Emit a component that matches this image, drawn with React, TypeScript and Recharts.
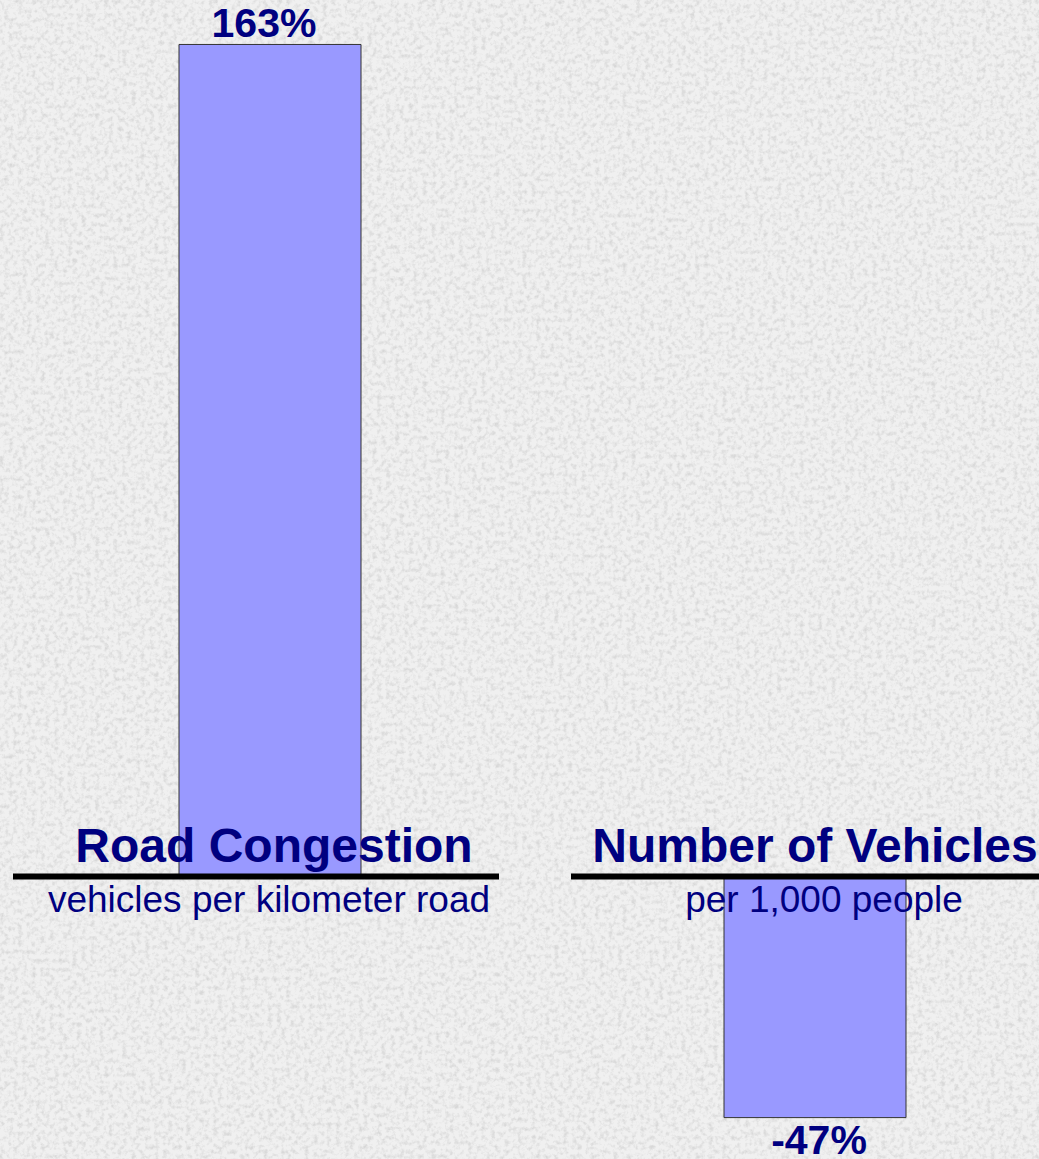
import { Bar, BarChart, LabelList, XAxis, YAxis } from "recharts";

const categories = ["Road Congestion", "Number of Vehicles"];
const subtitles = ["vehicles per kilometer road", "per 1,000 people"];
const changes = [163, -47];

const data = categories.map((name, i) => ({ name, sub: subtitles[i], value: changes[i] }));

const navy = "#000080";
const font = "'Liberation Sans', Arial, Helvetica, sans-serif";

// small nudges relative to the bar centre, per bar
const ruleFrom = [-257, -244];
const ruleLen = 486;
const titleDx = [4, 0];
const subDx = [-1, 9];
const valueDx = [-6, 4];

function BarText(props: any) {
  const { x, y, width, height, value, index } = props;
  const top = Math.min(y, y + height);
  const bottom = Math.max(y, y + height);
  const cx = x + width / 2;
  const zero = value >= 0 ? bottom : top;
  const row = data[index];
  return (
    <g fontFamily={font} fill={navy}>
      <text x={cx + titleDx[index]} y={zero - 15} textAnchor="middle" fontSize={48} fontWeight="bold">
        {row.name}
      </text>
      <line
        x1={cx + ruleFrom[index]}
        x2={cx + ruleFrom[index] + ruleLen}
        y1={zero - 1}
        y2={zero - 1}
        stroke="#000"
        strokeWidth={6}
      />
      <text x={cx + subDx[index]} y={zero + 35} textAnchor="middle" fontSize={37}>
        {row.sub}
      </text>
      <text
        x={cx + valueDx[index]}
        y={value >= 0 ? top - 7 : bottom + 36}
        textAnchor="middle"
        fontSize={41}
        fontWeight="bold"
      >
        {`${value}%`}
      </text>
    </g>
  );
}

function Marble() {
  return (
    <svg width={1039} height={1159} style={{ position: "absolute", left: 0, top: 0 }}>
      <filter id="speckle" x="0" y="0" width="100%" height="100%">
        <feTurbulence type="fractalNoise" baseFrequency="0.22" numOctaves={3} seed={7} />
        <feColorMatrix
          type="matrix"
          values="0 0 0 0 0.5  0 0 0 0 0.5  0 0 0 0 0.5  0 0 0 -2.4 1.35"
        />
      </filter>
      <rect width="100%" height="100%" fill="#f0f0f0" />
      <rect width="100%" height="100%" filter="url(#speckle)" opacity={0.45} />
    </svg>
  );
}

export default function App() {
  return (
    <div
      style={{
        position: "absolute",
        left: 0,
        top: 0,
        width: 1039,
        height: 1159,
        overflow: "hidden",
        background: "#efefef"
      }}
    >
      <Marble />
      <div style={{ position: "absolute", left: -3.5, top: 0 }}>
        <BarChart
          width={1090}
          height={1159}
          data={data}
          margin={{ top: 0, right: 0, bottom: 0, left: 0 }}
          barCategoryGap={0}
        >
          <XAxis dataKey="name" hide />
          <YAxis type="number" domain={[-55.1, 171.7]} allowDataOverflow hide />
          <Bar
            dataKey="value"
            fill="#9999FF"
            stroke="#333333"
            strokeWidth={1}
            barSize={182}
            isAnimationActive={false}
          >
            <LabelList dataKey="value" content={BarText} />
          </Bar>
        </BarChart>
      </div>
    </div>
  );
}
